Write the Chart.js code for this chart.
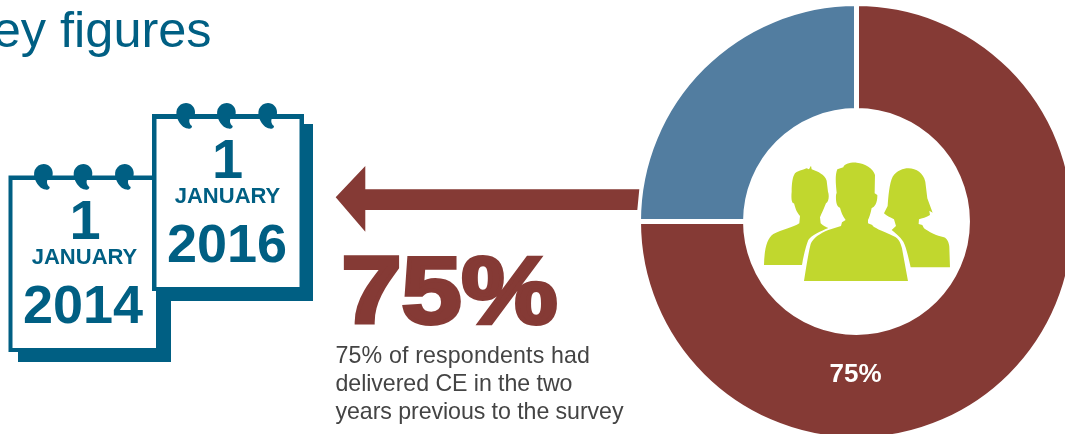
<!DOCTYPE html>
<html>
<head>
<meta charset="utf-8">
<title>Key figures</title>
<script src="https://cdn.jsdelivr.net/npm/chart.js@4"></script>
<style>
  html, body { margin: 0; padding: 0; width: 1065px; height: 434px; overflow: hidden; background: #fff; }
  #ring { position: absolute; left: 636px; top: 1px; }
  #art { position: absolute; left: 0; top: 0; }
  text { font-family: "Liberation Sans", Arial, sans-serif; }
  .cal { fill: #005f83; font-weight: bold; text-anchor: middle; }
  .note { fill: #444444; font-size: 23.2px; }
</style>
</head>
<body>
<canvas id="ring" width="441" height="441"></canvas>
<svg id="art" width="1065" height="434" viewBox="0 0 1065 434">
  <defs>
    <path id="coil" d="M1,0 C6,0 10,4 10,9 C10,13 9,15 5.5,14.5 C3.5,17 4,21 7,23 C7,25.5 5,26 3,25.5 C-2,25 -5,21 -7,17 C-9,13 -9,9 -8,6 C-6,2 -3,0 1,0 Z" fill="#005f83"/>
  </defs>

  <text x="-41" y="47" font-size="50.5" fill="#005f83">Key figures</text>

  <!-- 2014 calendar sheet -->
  <rect x="18" y="186" width="153" height="176" fill="#005f83"/>
  <rect x="8.5" y="175.5" width="151.5" height="176.5" fill="#005f83"/>
  <rect x="12.5" y="180" width="143.5" height="168" fill="#fff"/>
  <use href="#coil" x="42.7" y="164"/><use href="#coil" x="82.3" y="164"/><use href="#coil" x="123.7" y="164"/>
  <text class="cal" x="85" y="239" font-size="56">1</text>
  <text class="cal" x="84.5" y="264" font-size="22">JANUARY</text>
  <text class="cal" x="83" y="322.5" font-size="54">2014</text>

  <!-- 2016 calendar sheet -->
  <rect x="166" y="124" width="147" height="177" fill="#005f83"/>
  <rect x="152" y="114" width="152" height="177" fill="#005f83"/>
  <rect x="156.5" y="119" width="143" height="168" fill="#fff"/>
  <use href="#coil" x="185" y="103"/><use href="#coil" x="225.7" y="103"/><use href="#coil" x="267" y="103"/>
  <text class="cal" x="227.5" y="178" font-size="56">1</text>
  <text class="cal" x="227.5" y="203" font-size="22">JANUARY</text>
  <text class="cal" x="227" y="261.5" font-size="54">2016</text>

  <!-- arrow pointing from the ring towards the headline -->
  <path d="M335.7,197.3 L365.3,166 L365.3,189.3 L639.3,189.3 L637.3,210 L365.3,210 L365.3,231.7 Z" fill="#853a35"/>

  <!-- headline figure -->
  <text x="341.5" y="323" font-size="94" font-weight="bold" fill="#853a35" stroke="#853a35" stroke-width="4"
        textLength="216" lengthAdjust="spacingAndGlyphs">75%</text>

  <text class="note" x="335.5" y="363" textLength="254.5">75% of respondents had</text>
  <text class="note" x="335.5" y="391" textLength="237">delivered CE in the two</text>
  <text class="note" x="335.5" y="419" textLength="288">years previous to the survey</text>

  <!-- three people in the centre of the ring -->
  <g transform="translate(740,140) scale(0.3333)" fill="#c1d72e">
    <path d="M72,375 C73,330 80,295 100,282 C125,270 160,262 178,250 L180,228 C168,215 165,200 162,190 C155,190 153,175 155,155 C155,130 158,110 165,100 C178,90 195,88 200,85 L207,88 L213,77 L215,88 C235,95 255,105 260,122 L264,155 C268,165 267,185 258,190 C252,205 245,220 240,232 L242,250 C250,258 258,262 265,264 C240,275 215,285 205,300 C197,320 190,350 186,375 Z"/>
    <path d="M192,423 C198,385 205,340 212,312 C218,295 240,280 265,270 L303,258 L306,247 L317,240 C308,228 303,215 300,203 C290,200 287,185 288,165 L290,158 C287,130 285,105 292,88 L310,82 C312,72 330,67 350,68 C375,70 400,85 405,105 L404,160 L412,165 C413,185 405,203 395,204 C392,220 388,232 384,240 L384,250 L397,255 C398,262 425,272 460,288 C478,296 482,310 486,325 L504,423 Z"/>
    <path d="M512,382 C505,350 498,320 490,305 C480,290 465,278 455,270 L468,258 L462,238 C450,232 440,228 432,220 L443,198 C445,170 448,130 458,110 C470,92 490,85 505,85 C530,85 550,100 556,125 L562,175 L578,218 L568,212 L570,225 C560,232 545,235 537,238 L536,252 L547,255 L552,265 C565,275 590,288 612,292 C622,296 627,308 628,320 L630,382 Z"/>
  </g>
</svg>
<script>
const categories = ["Delivered CE", "Did not deliver CE"];
const shares = [75, 25];
const sliceColours = ["#853a35", "#527da0"];

// Writes the leading share in white at the bottom of the band
const shareLabel = {
  id: "shareLabel",
  afterDatasetsDraw(chart) {
    const arc = chart.getDatasetMeta(0).data[0];
    const ctx = chart.ctx;
    ctx.save();
    ctx.font = "bold 26px 'Liberation Sans', Arial, sans-serif";
    ctx.fillStyle = "#ffffff";
    ctx.textAlign = "center";
    ctx.textBaseline = "alphabetic";
    ctx.fillText(shares[0] + "%", arc.x - 1, arc.y + 160.5);
    ctx.restore();
  }
};

new Chart(document.getElementById("ring"), {
  type: "doughnut",
  data: {
    labels: categories,
    datasets: [{
      data: shares,
      backgroundColor: sliceColours,
      borderColor: "#ffffff",
      borderWidth: 5
    }]
  },
  options: {
    responsive: false,
    animation: false,
    cutout: "50.9%",
    plugins: { legend: { display: false }, tooltip: { enabled: false } }
  },
  plugins: [shareLabel]
});
</script>
</body>
</html>
